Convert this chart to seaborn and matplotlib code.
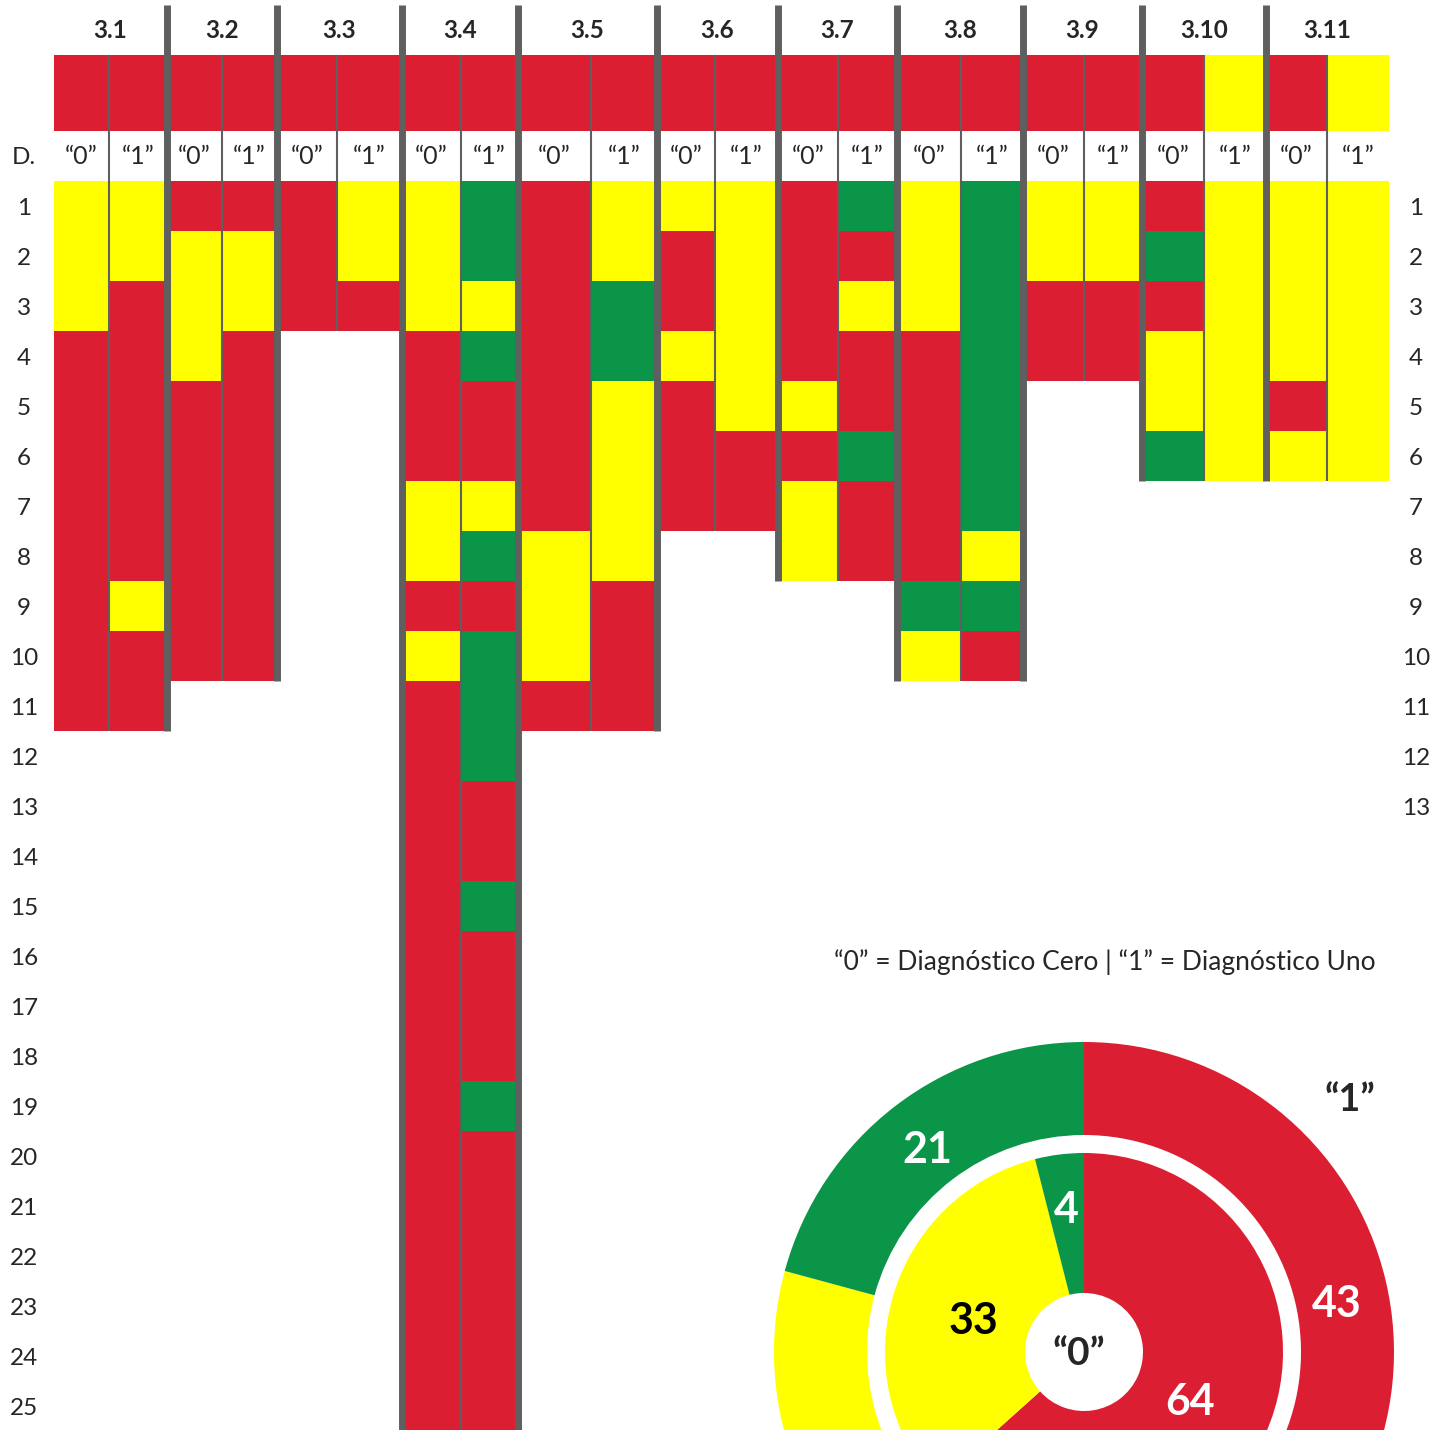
import numpy as np
import matplotlib
matplotlib.use("Agg")
import matplotlib.pyplot as plt
from matplotlib.colors import ListedColormap
import seaborn as sns

# grupos y celdas por columna (R = rojo, Y = amarillo, G = verde), fila 1 primero
groups = ["3.1", "3.2", "3.3", "3.4", "3.5", "3.6", "3.7", "3.8", "3.9", "3.10", "3.11"]
cells_0 = ["YYYRRRRRRRR", "RYYYRRRRRR", "RRR", "YYYRRRYYRYRRRRRRRRRRRRRRR",
           "RRRRRRRYYYR", "YRRYRRR", "RRRRYRYY", "YYYRRRRRGY", "YYRR",
           "RGRYYG", "YYYYRY"]
cells_1 = ["YYRRRRRRYRR", "RYYRRRRRRR", "YYR", "GGYGRRYGRGGGRRGRRRGRRRRRR",
           "YYGGYYYYRRR", "YYYYYRR", "GRYRRGRR", "GGGGGGGYGR", "YYRR",
           "YYYYYY", "YYYYYY"]
header_0 = "RRRRRRRRRRR"
header_1 = "RRRRRRRRRYY"
col_labels = ["\u201c0\u201d", "\u201c1\u201d"]
n_rows = 25
right_rows = 13

# donut: orden rojo, amarillo, verde
ring0_values = [64, 33, 4]
ring0_labels = ["64", "33", "4"]
ring1_values = [43, 37, 21]
ring1_labels = ["43", "", "21"]
legend_text = "\u201c0\u201d = Diagnóstico Cero | \u201c1\u201d = Diagnóstico Uno"

RED, YEL, GRN, GREY = "#DC1E32", "#FFFF00", "#0A9548", "#5F5F5F"
codes = {"R": 0, "Y": 1, "G": 2}
cmap = ListedColormap([RED, YEL, GRN])

# bordes de columna en pixeles (layout)
col_edges = [54, 109, 167, 222, 277, 337, 402, 461, 518, 591, 657, 715,
             778, 838, 897, 961, 1023, 1084, 1142, 1204, 1266, 1327, 1389]
widths = np.diff(col_edges)
W, H = 1450, 1430
top_row = 181
row_h = 50

sns.set_style("white")
plt.rcParams["font.family"] = ["Lato", "DejaVu Sans"]

grid = np.full((n_rows, 2 * len(groups)), np.nan)
head = np.full((1, 2 * len(groups)), np.nan)
for g in range(len(groups)):
    for side, col in enumerate([cells_0[g], cells_1[g]]):
        for r, ch in enumerate(col):
            grid[r, 2 * g + side] = codes[ch]
    head[0, 2 * g] = codes[header_0[g]]
    head[0, 2 * g + 1] = codes[header_1[g]]

fig = plt.figure(figsize=(W / 100, H / 100), dpi=100)

ax_grid = fig.add_axes([col_edges[0] / W, (H - top_row - n_rows * row_h) / H,
                        (col_edges[-1] - col_edges[0]) / W, n_rows * row_h / H])
sns.heatmap(np.repeat(grid, widths, axis=1), ax=ax_grid, cmap=cmap, vmin=-0.5, vmax=2.5,
            cbar=False, xticklabels=False, yticklabels=False)
ax_grid.axis("off")

ax_head = fig.add_axes([col_edges[0] / W, (H - 131) / H,
                        (col_edges[-1] - col_edges[0]) / W, 76 / H])
sns.heatmap(np.repeat(head, widths, axis=1), ax=ax_head, cmap=cmap, vmin=-0.5, vmax=2.5,
            cbar=False, xticklabels=False, yticklabels=False)
ax_head.axis("off")

# donut
cx, cy, R = 1084, 1352, 310
ax_pie = fig.add_axes([(cx - R) / W, (H - cy - R) / H, 2 * R / W, 2 * R / H])
w1, _ = ax_pie.pie(ring1_values, colors=[RED, YEL, GRN], radius=310, startangle=90,
                   counterclock=False, wedgeprops=dict(width=93, linewidth=0))
w0, _ = ax_pie.pie(ring0_values, colors=[RED, YEL, GRN], radius=199, startangle=90,
                   counterclock=False, wedgeprops=dict(width=140, linewidth=0))
ax_pie.set_xlim(-R, R)
ax_pie.set_ylim(-R, R)
ax_pie.axis("off")

def wedge_label(w, txt, r, color, shift=0):
    if not txt:
        return
    th = np.deg2rad((w.theta1 + w.theta2) / 2 - shift)
    ax_pie.text(r * np.cos(th), r * np.sin(th) - 15.5, txt, ha="center", va="baseline",
                fontsize=31, fontweight="bold", color=color)

for w, t, s in zip(w1, ring1_labels, [2, 0, 0]):
    wedge_label(w, t, 258, "white", s)
for w, t, r, c in zip(w0, ring0_labels, [116, 116, 146], ["white", "black", "white"]):
    wedge_label(w, t, r, c)
ax_pie.text(-5, -13, "\u201c0\u201d", ha="center", va="baseline", fontsize=28, fontweight="bold")
ax_pie.text(266, 241, "\u201c1\u201d", ha="center", va="baseline", fontsize=27, fontweight="bold")

# capa de lineas y textos
ax = fig.add_axes([0, 0, 1, 1])
ax.set_xlim(0, W)
ax.set_ylim(H, 0)
ax.axis("off")

lens = [len(c) for c in cells_0]
for g in range(len(groups) - 1):
    bottom = top_row + row_h * max(lens[g], lens[g + 1])
    ax.vlines(col_edges[2 * g + 2], 5, bottom, colors=GREY, linewidth=5.0)
for g in range(len(groups)):
    ax.vlines(col_edges[2 * g + 1], 55, top_row + row_h * lens[g], colors=GREY, linewidth=1.5)
    xc = (col_edges[2 * g] + col_edges[2 * g + 2]) / 2
    ax.text(xc, 38.5, groups[g], ha="center", va="baseline", fontsize=17.5, fontweight="bold")
    for side in range(2):
        xm = (col_edges[2 * g + side] + col_edges[2 * g + side + 1]) / 2
        ax.text(xm, 163.5, col_labels[side], ha="center", va="baseline", fontsize=18)

ax.text(24, 163.5, "D.", ha="center", va="baseline", fontsize=17.5)
for i in range(1, n_rows + 1):
    yb = top_row + row_h * (i - 1) + 34
    ax.text(24, yb, str(i), ha="center", va="baseline", fontsize=17.5)
    if i <= right_rows:
        ax.text(1416, yb, str(i), ha="center", va="baseline", fontsize=17.5)

ax.text(1376, 970, legend_text, ha="right", va="baseline", fontsize=19)

fig.savefig("out.png", dpi=100)
